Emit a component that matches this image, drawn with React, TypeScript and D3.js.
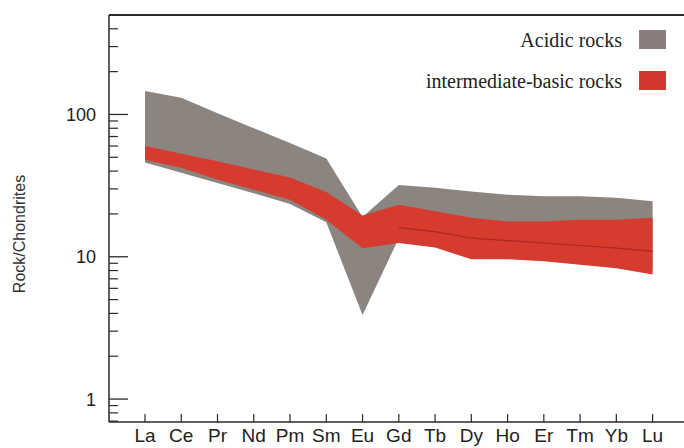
import React from "react";
import * as d3 from "d3";

const categories = ["La", "Ce", "Pr", "Nd", "Pm", "Sm", "Eu", "Gd", "Tb", "Dy", "Ho", "Er", "Tm", "Yb", "Lu"];
const acidicUpper = [146, 131, 102, 80, 63, 49, 19, 32, 30.6, 28.8, 27.3, 26.6, 26.6, 26, 24.6];
const acidicLower = [46, 39, 33, 28, 23.5, 17.5, 3.9, 13.5, 12.5, 10.5, 10.5, 10, 9.5, 9, 8.2];
const interUpper = [60, 53, 47, 41, 36, 28.5, 19.5, 23.2, 20.9, 18.8, 17.7, 17.7, 18.2, 18.2, 18.8];
const interLower = [48, 42.3, 34.9, 29.6, 25.2, 18.2, 11.5, 12.5, 11.6, 9.6, 9.6, 9.3, 8.8, 8.3, 7.5];
const interMid: (number | null)[] = [null, null, null, null, null, null, null, 16, 15, 13.5, 13, 12.5, 12, 11.5, 10.9];
const yTickValues = [1, 10, 100];
const legendLabels = ["Acidic rocks", "intermediate-basic rocks"];

const W = 684;
const H = 448;
const left = 109;
const top = 15;
const bottom = 422;

export default function App() {
  const x = d3.scalePoint<string>().domain(categories).range([145, 652.6]);
  const y = d3.scaleLog().domain([0.69, 500]).range([bottom, top]);

  const grayColor = "#8c847f";
  const redColor = "#d63b30";

  const band = (up: number[], lo: number[]) =>
    d3
      .area<number>()
      .x((_, i) => x(categories[i]) as number)
      .y0((_, i) => y(lo[i]))
      .y1((_, i) => y(up[i]))(up) as string;

  const midLine = d3
    .line<number | null>()
    .defined((d) => d != null)
    .x((_, i) => x(categories[i]) as number)
    .y((d) => y(d as number))(interMid) as string;

  const minorTicks: number[] = [];
  for (const dec of [0.1, 1, 10, 100]) {
    for (let k = 2; k <= 9; k++) {
      const v = dec * k;
      if (v >= 0.69 && v <= 500 && v !== 1 && v !== 10 && v !== 100) minorTicks.push(v);
    }
  }

  const axisColor = "#2a2a2a";
  const sans = "Liberation Sans, Arial, Helvetica, sans-serif";

  return (
    <svg width={W} height={H} style={{ position: "absolute", left: 0, top: 0, background: "#fff" }}>
      <rect x={0} y={0} width={W} height={H} fill="#fff" />
      <path d={band(acidicUpper, acidicLower)} fill={grayColor} />
      <path d={band(interUpper, interLower)} fill={redColor} />
      <path d={midLine} fill="none" stroke="#a52a22" strokeWidth={1.2} />

      {/* frame */}
      <line x1={left} x2={W} y1={top} y2={top} stroke={axisColor} strokeWidth={2} />
      <line x1={left} x2={left} y1={top} y2={bottom} stroke={axisColor} strokeWidth={1.5} />
      <line x1={left} x2={W} y1={bottom} y2={bottom} stroke={axisColor} strokeWidth={1.5} />

      {/* y ticks */}
      {yTickValues.map((v) => (
        <g key={"yt" + v}>
          <line x1={left} x2={left + 19} y1={y(v)} y2={y(v)} stroke={axisColor} strokeWidth={1.3} />
          <text x={96} y={y(v)} dy="0.36em" textAnchor="end" fontFamily={sans} fontSize={18} fill="#222">
            {v}
          </text>
        </g>
      ))}
      {minorTicks.map((v) => (
        <line key={"mt" + v} x1={left} x2={left + 9} y1={y(v)} y2={y(v)} stroke={axisColor} strokeWidth={1.2} />
      ))}

      {/* x ticks */}
      {categories.map((c) => (
        <g key={"xt" + c}>
          <line x1={x(c)} x2={x(c)} y1={bottom} y2={bottom - 8} stroke={axisColor} strokeWidth={1.2} />
          <text x={x(c)} y={442} textAnchor="middle" fontFamily={sans} fontSize={19} fill="#222">
            {c}
          </text>
        </g>
      ))}

      {/* y title */}
      <text
        transform={`translate(25,234) rotate(-90)`}
        textAnchor="middle"
        fontFamily={sans}
        fontSize={16}
        fill="#333"
      >
        Rock/Chondrites
      </text>

      {/* legend */}
      {legendLabels.map((lab, i) => (
        <g key={lab}>
          <text
            x={622}
            y={40 + i * 41}
            dy="0.33em"
            textAnchor="end"
            fontFamily="Liberation Serif, Times New Roman, serif"
            fontSize={20}
            fill="#222"
          >
            {lab}
          </text>
          <rect x={639} y={30 + i * 41} width={27} height={19} fill={i === 0 ? "#8a7c7b" : "#d4372f"} />
        </g>
      ))}
    </svg>
  );
}
